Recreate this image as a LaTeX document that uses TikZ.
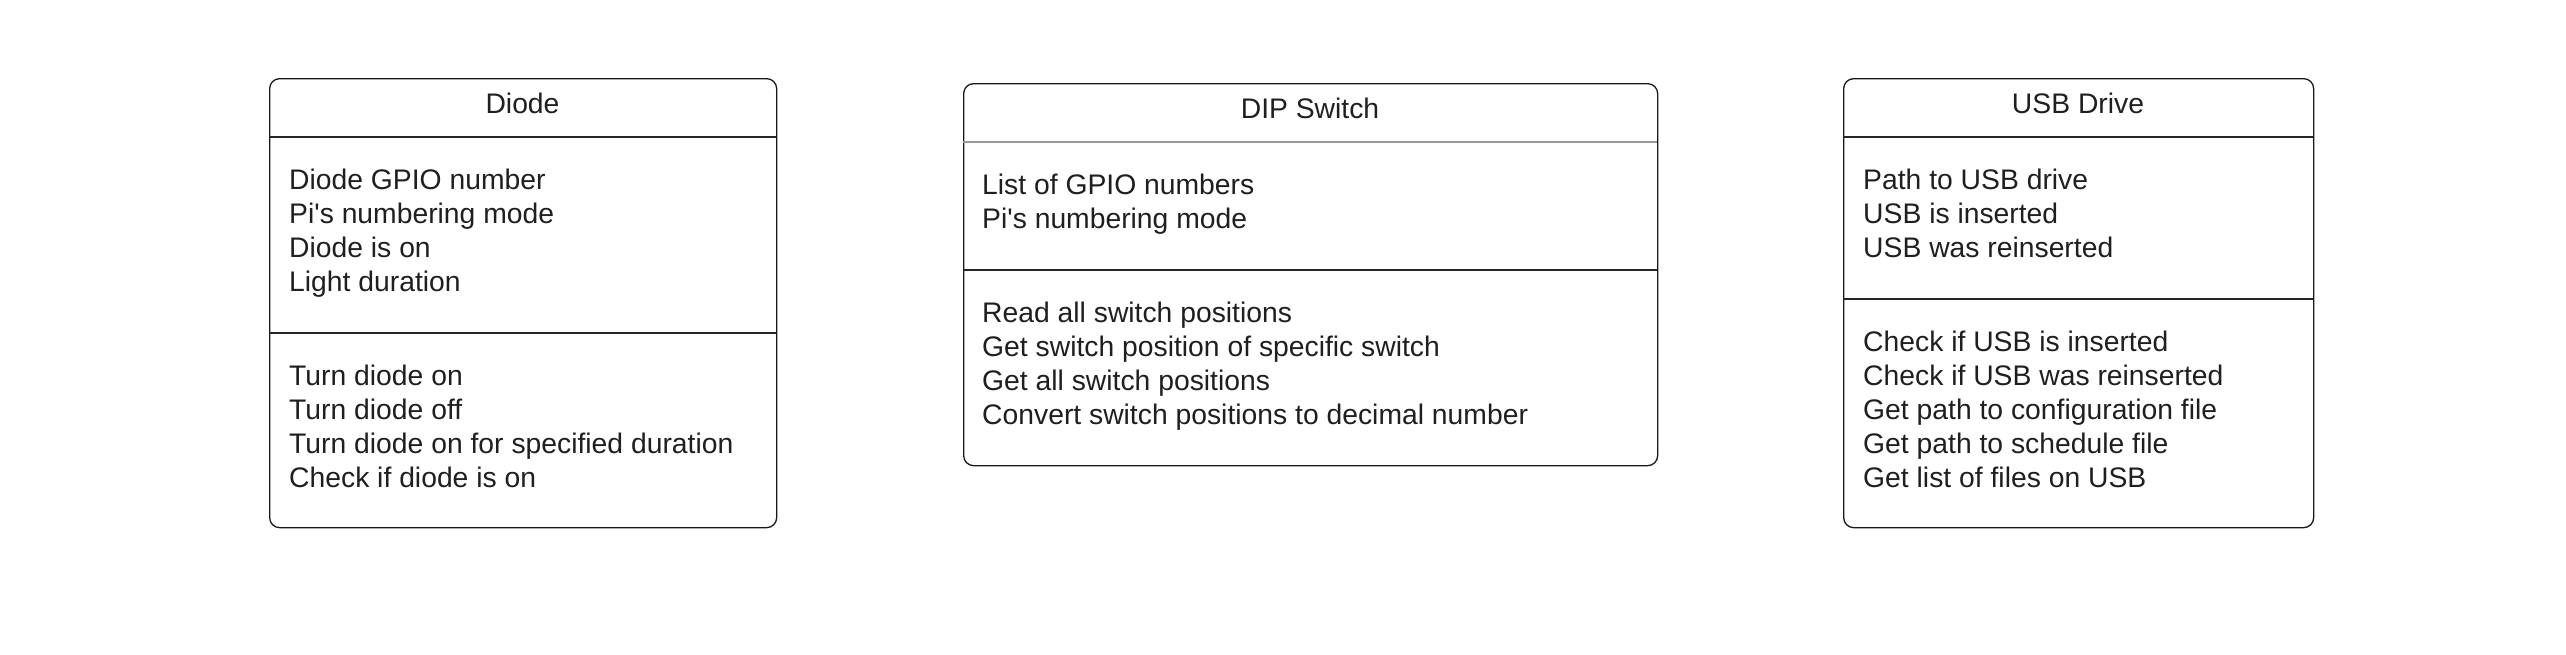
\documentclass[tikz,border=0pt]{standalone}
\usepackage{fontspec}
\setmainfont{Liberation Sans}
\begin{document}
\begin{tikzpicture}[x=1pt,y=-1pt,
  box/.style={draw=black!90, line width=1.3pt, rounded corners=10pt, anchor=north west, inner sep=0pt},
  divider/.style={draw=black!85, line width=1.1pt},
  lightdiv/.style={draw=black!40, line width=1.1pt},
  txt/.style={anchor=base west, inner sep=0pt, text=black!88, font=\fontsize{28.3pt}{34pt}\selectfont},
  ttl/.style={anchor=base, inner sep=0pt, text=black!88, font=\fontsize{28.3pt}{34pt}\selectfont}]
\useasboundingbox (0,0) rectangle (2566,654);
% Diode
\node[box, minimum width=507pt, minimum height=449pt] (diode) at (269,78) {};
\draw[divider] (269,137) -- (776,137);
\draw[divider] (269,333) -- (776,333);
\node[ttl] (diodeT) at (522.5,113) {Diode};
\foreach \t [count=\i] in {Diode GPIO number, Pi\textquotesingle s numbering mode, Diode is on, Light duration}
  \node[txt] (da\i) at (289,{189+34*(\i-1)}) {\t};
\foreach \t [count=\i] in {Turn diode on, Turn diode off, Turn diode on for specified duration, Check if diode is on}
  \node[txt] (dm\i) at (289,{385+34*(\i-1)}) {\t};
% DIP Switch
\node[box, minimum width=694pt, minimum height=382pt] (dip) at (963,83) {};
\draw[lightdiv] (963,142) -- (1657,142);
\draw[divider] (963,270) -- (1657,270);
\node[ttl] (dipT) at (1310,118) {DIP Switch};
\foreach \t [count=\i] in {List of GPIO numbers, Pi\textquotesingle s numbering mode}
  \node[txt] (pa\i) at (982,{194+34*(\i-1)}) {\t};
\foreach \t [count=\i] in {Read all switch positions, Get switch position of specific switch, Get all switch positions, Convert switch positions to decimal number}
  \node[txt] (pm\i) at (982,{322+34*(\i-1)}) {\t};
% USB Drive
\node[box, minimum width=470pt, minimum height=449pt] (usb) at (1843,78) {};
\draw[divider] (1843,137) -- (2313,137);
\draw[divider] (1843,299) -- (2313,299);
\node[ttl] (usbT) at (2078,113) {USB Drive};
\foreach \t [count=\i] in {Path to USB drive, USB is inserted, USB was reinserted}
  \node[txt] (ua\i) at (1863,{189+34*(\i-1)}) {\t};
\foreach \t [count=\i] in {Check if USB is inserted, Check if USB was reinserted, Get path to configuration file, Get path to schedule file, Get list of files on USB}
  \node[txt] (um\i) at (1863,{351+34*(\i-1)}) {\t};
\end{tikzpicture}
\end{document}
